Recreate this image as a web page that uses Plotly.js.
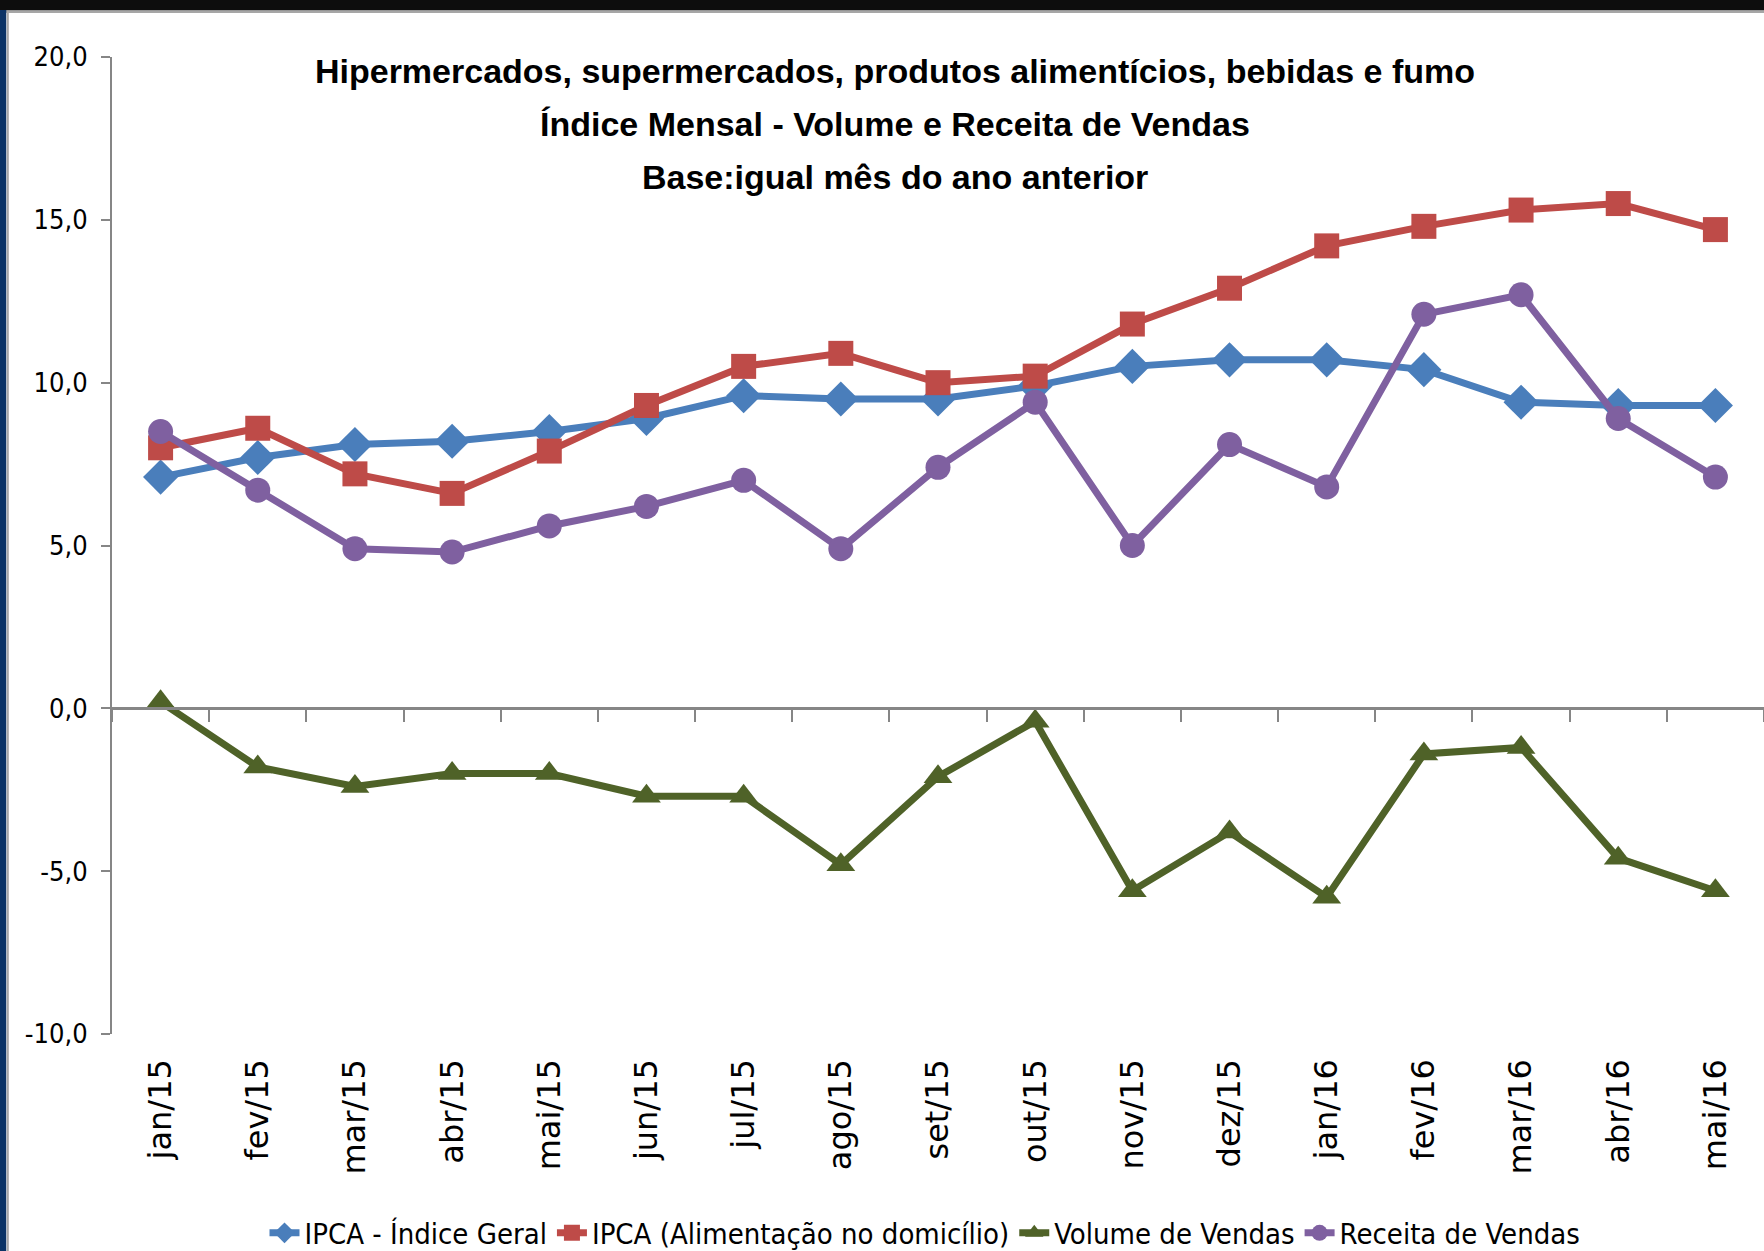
<!DOCTYPE html>
<html>
<head>
<meta charset="utf-8">
<script src="https://cdn.plot.ly/plotly-3.0.1.min.js"></script>
<style>
  html, body { margin: 0; padding: 0; background: #ffffff; }
  #chart { width: 1764px; height: 1251px; }
</style>
</head>
<body>
<div id="chart"></div>
<script>
// ---- data ----
const categories = ["jan/15","fev/15","mar/15","abr/15","mai/15","jun/15","jul/15","ago/15","set/15","out/15","nov/15","dez/15","jan/16","fev/16","mar/16","abr/16","mai/16"];
const ipcaGeral = [7.1, 7.7, 8.1, 8.2, 8.5, 8.9, 9.6, 9.5, 9.5, 9.9, 10.5, 10.7, 10.7, 10.4, 9.4, 9.3, 9.3];
const ipcaAlimentacao = [8.0, 8.6, 7.2, 6.6, 7.9, 9.3, 10.5, 10.9, 10.0, 10.2, 11.8, 12.9, 14.2, 14.8, 15.3, 15.5, 14.7];
const volumeVendas = [0.2, -1.8, -2.4, -2.0, -2.0, -2.7, -2.7, -4.8, -2.1, -0.4, -5.6, -3.8, -5.8, -1.4, -1.2, -4.6, -5.6];
const receitaVendas = [8.5, 6.7, 4.9, 4.8, 5.6, 6.2, 7.0, 4.9, 7.4, 9.4, 5.0, 8.1, 6.8, 12.1, 12.7, 8.9, 7.1];
const seriesNames = ["IPCA - Índice Geral", "IPCA (Alimentação no domicílio)", "Volume de Vendas", "Receita de Vendas"];
const yTickVals = [-10, -5, 0, 5, 10, 15, 20];
const yTickText = ["-10,0", "-5,0", "0,0", "5,0", "10,0", "15,0", "20,0"];
const titleLines = ["Hipermercados, supermercados, produtos alimentícios, bebidas e fumo", "Índice Mensal - Volume e Receita de Vendas", "Base:igual mês do ano anterior"];

// ---- layout geometry ----
const W = 1764, H = 1251;
const L = 112, R = 0, T = 57, B = 217;
const PW = W - L - R, PH = H - T - B;
const px2x = px => (px - L) / PW;
const py2y = py => (H - B - py) / PH;

const narrow = '"DejaVu Sans Condensed", "DejaVu Sans", sans-serif';
const titleFamily = '"Liberation Sans", Arial, sans-serif';
const gray = '#868686';

function line(name, y, color, symbol, size) {
  return {
    type: 'scatter', mode: 'lines+markers', name: name,
    x: categories, y: y,
    line: { color: color, width: 7 },
    marker: { color: color, symbol: symbol, size: size, line: { width: 0 } },
    cliponaxis: false,
    hoverinfo: 'skip'
  };
}

const data = [
  line(seriesNames[0], ipcaGeral, '#4A7EBB', 'diamond', 27),
  line(seriesNames[1], ipcaAlimentacao, '#BE4B48', 'square', 25),
  line(seriesNames[2], volumeVendas, '#4F6228', 'triangle-up', 25),
  line(seriesNames[3], receitaVendas, '#7F60A0', 'circle', 25)
];

function rectPx(x0, y0, x1, y1, color) {
  return { type: 'rect', xref: 'paper', yref: 'paper',
    x0: px2x(x0), x1: px2x(x1), y0: py2y(y0), y1: py2y(y1),
    fillcolor: color, line: { width: 0 }, layer: 'above' };
}

const titleFont = { family: titleFamily, size: 34, color: '#000000', weight: 'bold' };

const layout = {
  width: W, height: H,
  margin: { l: L, r: R, t: T, b: B, pad: 0, autoexpand: false },
  paper_bgcolor: '#ffffff', plot_bgcolor: '#ffffff',
  showlegend: true,
  title: {
    text: titleLines[0],
    font: titleFont,
    x: 895 / W, xref: 'container', xanchor: 'center',
    y: 1 - 71 / H, yref: 'container', yanchor: 'middle'
  },
  annotations: [
    { text: titleLines[1], xref: 'paper', yref: 'paper', x: px2x(895), y: py2y(124),
      xanchor: 'center', yanchor: 'middle', showarrow: false, font: titleFont },
    { text: titleLines[2], xref: 'paper', yref: 'paper', x: px2x(895), y: py2y(177),
      xanchor: 'center', yanchor: 'middle', showarrow: false, font: titleFont }
  ],
  xaxis: {
    type: 'category', range: [-0.5, categories.length - 0.5],
    anchor: 'free', position: 1 / 3,
    showline: true, linecolor: gray, linewidth: 3,
    ticks: 'outside', tickson: 'boundaries', ticklen: 12, tickwidth: 2, tickcolor: gray,
    tickangle: -90, ticklabelstandoff: 336,
    tickfont: { family: '"DejaVu Sans", sans-serif', size: 32, color: '#000000' },
    showgrid: false, zeroline: false, fixedrange: true
  },
  yaxis: {
    range: [-10, 20], tickvals: yTickVals, ticktext: yTickText,
    showline: true, linecolor: gray, linewidth: 2,
    ticks: 'outside', ticklen: 9, tickwidth: 2, tickcolor: gray,
    ticklabelstandoff: 8,
    tickfont: { family: narrow, size: 27, color: '#000000' },
    showgrid: false, zeroline: false, fixedrange: true
  },
  legend: {
    orientation: 'h', x: px2x(925), xanchor: 'center', y: py2y(1233), yanchor: 'middle',
    font: { family: narrow, size: 29, color: '#000000' },
    bgcolor: 'rgba(0,0,0,0)', traceorder: 'normal', itemclick: false, itemdoubleclick: false
  },
  shapes: [
    rectPx(0, 0, W, 10.5, '#0d0d0d'),
    rectPx(0, 10.5, W, 13, '#a6a6a6'),
    rectPx(0, 10, 6.3, H, '#0b3366'),
    rectPx(6.8, 12, 8.8, H, '#a6a6a6')
  ]
};

Plotly.newPlot('chart', data, layout, { displayModeBar: false, staticPlot: true });
</script>
</body>
</html>
